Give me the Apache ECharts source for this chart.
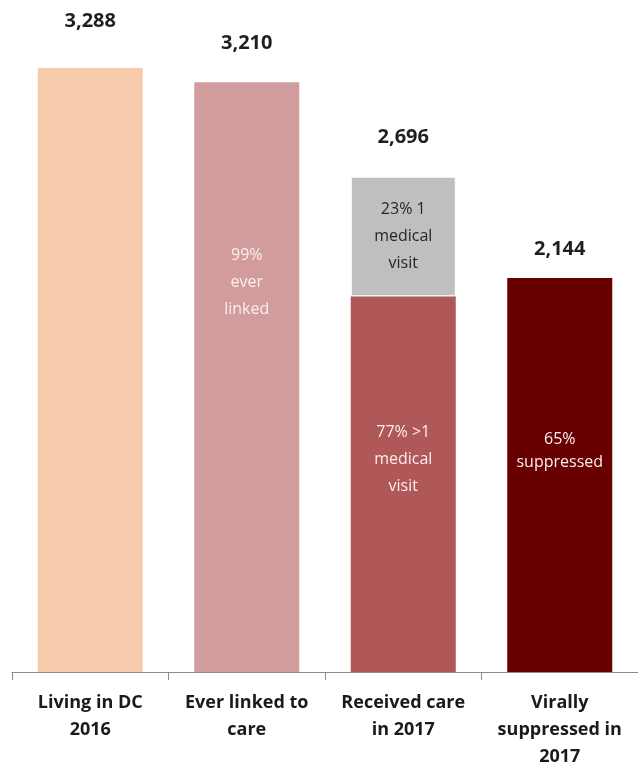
<!DOCTYPE html>
<html>
<head>
<meta charset="utf-8">
<script src="https://cdn.jsdelivr.net/npm/echarts@6/dist/echarts.min.js"></script>
<style>
  html, body { margin: 0; padding: 0; background: #fff; }
  #care_continuum { width: 638px; height: 771px; }
</style>
</head>
<body>
<div id="care_continuum"></div>
<script>
// categories along the x axis
var categories = ['Living in DC\n2016', 'Ever linked to\ncare', 'Received care\nin 2017', 'Virally\nsuppressed in\n2017'];
// totals shown above each bar
var totals = [3288, 3210, 2696, 2144];
// lower (main) segment of each bar
var mainValues = [3288, 3210, 2045, 2144];
// upper grey segment (only the "received care" bar has one)
var oneVisitValues = [null, null, 651, null];
// text written inside the bars
var mainInside = ['', '99%\never\nlinked', '77% >1\nmedical\nvisit', '65%\nsuppressed'];
var oneVisitInside = ['', '', '23% 1\nmedical\nvisit', ''];

var barColors = ['#F8CBAD', '#D39C9C', '#B05757', '#690000'];
var insideTextColors = ['#fff', '#fbeeee', '#fbeeee', '#fbeeee'];
var insideY = ['50%', '34%', '43.5%', '44%'];
var insideLineHeight = [27, 27, 27, 23];
var totalGap = [37, 29, 29, 19];

var fontFam = 'Open Sans, Noto Sans, sans-serif';

var myChart = echarts.init(document.getElementById('care_continuum'));

function totalLabel(i) {
    return {
        show: true,
        position: 'top',
        distance: totalGap[i],
        formatter: totals[i].toLocaleString('en-US'),
        fontFamily: fontFam,
        fontSize: 20,
        fontWeight: 'bold',
        color: '#1f1f1f'
    };
}

var mainData = mainValues.map(function (v, i) {
    var item = {
        value: v,
        itemStyle: { color: barColors[i] },
        label: {
            show: mainInside[i] !== '',
            position: ['50%', insideY[i]],
            align: 'center',
            verticalAlign: 'middle',
            formatter: mainInside[i],
            fontFamily: fontFam,
            fontSize: 16,
            lineHeight: insideLineHeight[i],
            color: insideTextColors[i]
        }
    };
    return item;
});

// second series: one label for the total above the top segment of each bar
var topLabelData = mainValues.map(function (v, i) {
    return oneVisitValues[i] == null ? { value: 0, label: totalLabel(i) } : { value: 0 };
});

var greyData = oneVisitValues.map(function (v, i) {
    if (v == null) return null;
    return {
        value: v,
        label: {
            show: true,
            position: 'inside',
            formatter: function () { return oneVisitInside[i]; },
            fontFamily: fontFam,
            fontSize: 16,
            lineHeight: 27,
            color: '#262626'
        }
    };
});

var greyTotalData = oneVisitValues.map(function (v, i) {
    return v == null ? { value: 0 } : { value: 0, label: totalLabel(i) };
});

var option = {
    animation: false,
    grid: {
        left: 12,
        right: 0,
        top: 29,
        bottom: 99,
        containLabel: false
    },
    xAxis: {
        type: 'category',
        data: categories,
        boundaryGap: true,
        axisLine: {
            show: true,
            lineStyle: { color: '#8a8a8a', width: 1 }
        },
        axisTick: {
            show: true,
            length: 8,
            lineStyle: { color: '#8a8a8a', width: 1 }
        },
        axisLabel: {
            margin: 17,
            interval: 0,
            fontFamily: fontFam,
            fontSize: 18,
            fontWeight: 'bold',
            lineHeight: 27,
            color: '#1a1a1a'
        }
    },
    yAxis: {
        type: 'value',
        min: 0,
        max: 3500,
        show: false,
        splitLine: { show: false }
    },
    series: [
        {
            name: 'main',
            type: 'bar',
            stack: 'care',
            barWidth: 105,
            data: mainData
        },
        {
            name: 'mainTotal',
            type: 'bar',
            stack: 'care',
            barWidth: 105,
            data: topLabelData
        },
        {
            name: 'oneVisit',
            type: 'bar',
            stack: 'care',
            barWidth: 105,
            itemStyle: { color: '#BFBFBF', borderColor: '#fff', borderWidth: 1 },
            data: greyData
        },
        {
            name: 'greyTotal',
            type: 'bar',
            stack: 'care',
            barWidth: 105,
            data: greyTotalData
        }
    ]
};

myChart.setOption(option);
</script>
</body>
</html>
